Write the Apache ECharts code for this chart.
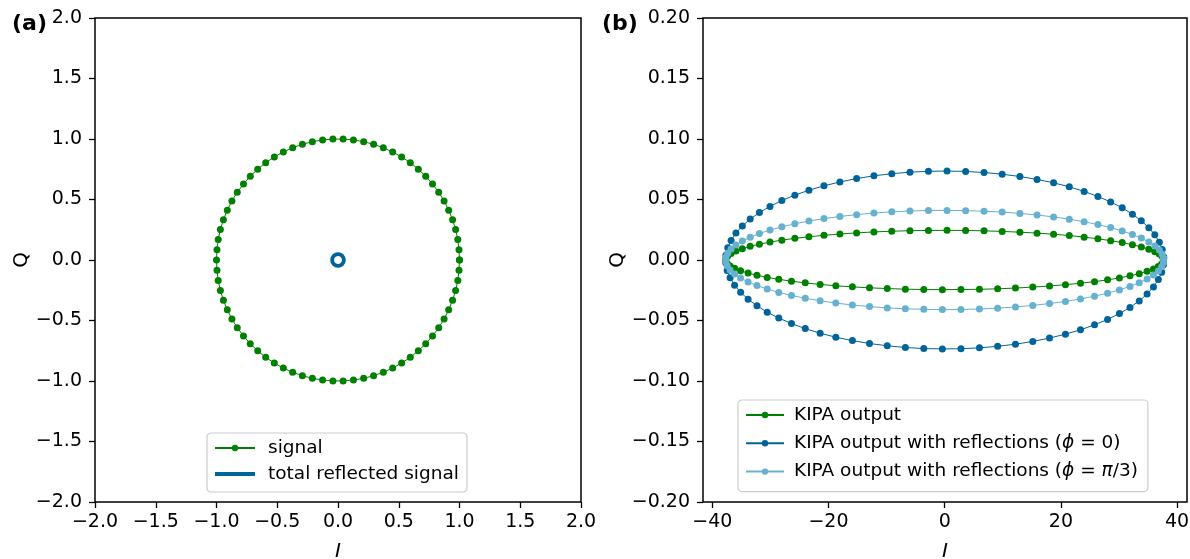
<!DOCTYPE html>
<html>
<head>
<meta charset="utf-8">
<script src="https://cdn.jsdelivr.net/npm/echarts@6/dist/echarts.min.js"></script>
<style>html,body{margin:0;padding:0;background:#fff;}#c{width:1190px;height:559px;}</style>
</head>
<body>
<div id="c"></div>
<script>
// ---- Panel (a): signal circle (I, Q) ----
const sigI = [1.000,0.996,0.986,0.968,0.943,0.911,0.873,0.829,0.778,0.722,0.661,0.595,0.524,0.450,0.373,0.293,0.211,0.127,0.042,
 -0.042,-0.127,-0.211,-0.293,-0.373,-0.450,-0.524,-0.595,-0.661,-0.722,-0.778,-0.829,-0.873,-0.911,-0.943,-0.968,-0.986,-0.996,
 -1.000,
 -0.996,-0.986,-0.968,-0.943,-0.911,-0.873,-0.829,-0.778,-0.722,-0.661,-0.595,-0.524,-0.450,-0.373,-0.293,-0.211,-0.127,-0.042,
 0.042,0.127,0.211,0.293,0.373,0.450,0.524,0.595,0.661,0.722,0.778,0.829,0.873,0.911,0.943,0.968,0.986,0.996,
 1.000];
const sigQ = [0.000,0.085,0.169,0.252,0.333,0.412,0.488,0.560,0.628,0.692,0.751,0.804,0.852,0.893,0.928,0.956,0.978,0.992,0.999,
 0.999,0.992,0.978,0.956,0.928,0.893,0.852,0.804,0.751,0.692,0.628,0.560,0.488,0.412,0.333,0.252,0.169,0.085,
 0.000,
 -0.085,-0.169,-0.252,-0.333,-0.412,-0.488,-0.560,-0.628,-0.692,-0.751,-0.804,-0.852,-0.893,-0.928,-0.956,-0.978,-0.992,-0.999,
 -0.999,-0.992,-0.978,-0.956,-0.928,-0.893,-0.852,-0.804,-0.751,-0.692,-0.628,-0.560,-0.488,-0.412,-0.333,-0.252,-0.169,-0.085,
 0.000];
// total reflected signal (tiny ring at origin)
const reflI = [0.048,0.042,0.024,0.000,-0.024,-0.042,-0.048,-0.042,-0.024,0.000,0.024,0.042,0.048];
const reflQ = [0.000,0.024,0.042,0.048,0.042,0.024,0.000,-0.024,-0.042,-0.048,-0.042,-0.024,0.000];

// ---- Panel (b): KIPA output ellipses ----
const kipaI = [37.68,37.44,36.94,36.16,35.13,33.84,32.31,30.55,28.56,26.37,24.00,21.44,18.74,15.89,12.94,9.89,6.77,3.60,0.40,
 -2.80,-5.98,-9.11,-12.18,-15.16,-18.04,-20.78,-23.37,-25.79,-28.03,-30.07,-31.89,-33.48,-34.83,-35.93,-36.77,-37.34,-37.65,
 -37.68,-37.44,-36.94,-36.16,-35.13,-33.84,-32.31,-30.55,-28.56,-26.37,-24.00,-21.44,-18.74,-15.89,-12.94,-9.89,-6.77,-3.60,-0.40,
 2.80,5.98,9.11,12.18,15.16,18.04,20.78,23.37,25.79,28.03,30.07,31.89,33.48,34.83,35.93,36.77,37.34,37.65,
 37.68];
const kipaQ = [0.0008,0.0029,0.0049,0.0069,0.0089,0.0108,0.0126,0.0144,0.0160,0.0175,0.0189,0.0202,0.0213,0.0222,0.0230,0.0236,0.0241,0.0244,0.0245,
 0.0244,0.0242,0.0238,0.0232,0.0224,0.0215,0.0204,0.0192,0.0179,0.0164,0.0148,0.0131,0.0113,0.0094,0.0074,0.0054,0.0034,0.0013,
 -0.0008,-0.0029,-0.0049,-0.0069,-0.0089,-0.0108,-0.0126,-0.0144,-0.0160,-0.0175,-0.0189,-0.0202,-0.0213,-0.0222,-0.0230,-0.0236,-0.0241,-0.0244,-0.0245,
 -0.0244,-0.0242,-0.0238,-0.0232,-0.0224,-0.0215,-0.0204,-0.0192,-0.0179,-0.0164,-0.0148,-0.0131,-0.0113,-0.0094,-0.0074,-0.0054,-0.0034,-0.0013,
 0.0008];
const kipaRefl0Q = [0.0023,0.0086,0.0147,0.0208,0.0267,0.0324,0.0379,0.0431,0.0480,0.0525,0.0567,0.0605,0.0638,0.0666,0.0690,0.0709,0.0723,0.0732,0.0735,
 0.0733,0.0726,0.0713,0.0696,0.0673,0.0645,0.0613,0.0577,0.0536,0.0491,0.0443,0.0392,0.0338,0.0281,0.0223,0.0162,0.0101,0.0039,
 -0.0023,-0.0086,-0.0147,-0.0208,-0.0267,-0.0324,-0.0379,-0.0431,-0.0480,-0.0525,-0.0567,-0.0605,-0.0638,-0.0666,-0.0690,-0.0709,-0.0723,-0.0732,-0.0735,
 -0.0733,-0.0726,-0.0713,-0.0696,-0.0673,-0.0645,-0.0613,-0.0577,-0.0536,-0.0491,-0.0443,-0.0392,-0.0338,-0.0281,-0.0223,-0.0162,-0.0101,-0.0039,
 0.0023];
const kipaRefl3Q = [0.0013,0.0048,0.0082,0.0116,0.0149,0.0181,0.0211,0.0240,0.0268,0.0293,0.0316,0.0337,0.0356,0.0372,0.0385,0.0396,0.0403,0.0408,0.0410,
 0.0409,0.0405,0.0398,0.0388,0.0375,0.0360,0.0342,0.0322,0.0299,0.0274,0.0247,0.0219,0.0188,0.0157,0.0124,0.0091,0.0056,0.0022,
 -0.0013,-0.0048,-0.0082,-0.0116,-0.0149,-0.0181,-0.0211,-0.0240,-0.0268,-0.0293,-0.0316,-0.0337,-0.0356,-0.0372,-0.0385,-0.0396,-0.0403,-0.0408,-0.0410,
 -0.0409,-0.0405,-0.0398,-0.0388,-0.0375,-0.0360,-0.0342,-0.0322,-0.0299,-0.0274,-0.0247,-0.0219,-0.0188,-0.0157,-0.0124,-0.0091,-0.0056,-0.0022,
 0.0013];

const xTicksB = [-40, -20, 0, 20, 40];
const seriesNames = ['signal', 'total reflected signal', 'KIPA output',
  'KIPA output with reflections (ϕ = 0)', 'KIPA output with reflections (ϕ = π/3)'];

const GREEN = '#008000', DARK = '#00649a', LIGHT = '#66b1d0';
const FONT = 'DejaVu Sans';
const zip = (a, b) => a.map((v, i) => [v, b[i]]);
const minus = s => s.replace('-', '\u2212');

const axisCommon = {
  axisLine: { show: false, onZero: false },
  axisTick: { show: true, length: 6, lineStyle: { color: '#000', width: 1.3 } },
  splitLine: { show: false },
  axisLabel: { color: '#000', fontFamily: FONT, fontSize: 19 }
};

const chart = echarts.init(document.getElementById('c'), null, { renderer: 'canvas' });
chart.setOption({
  animation: false,
  backgroundColor: '#fff',
  title: [
    { text: '(a)', left: 7, top: 8, textStyle: { fontFamily: FONT, fontWeight: 'bold', fontSize: 22, color: '#000' } },
    { text: '(b)', left: 597, top: 8, textStyle: { fontFamily: FONT, fontWeight: 'bold', fontSize: 22, color: '#000' } }
  ],
  grid: [
    { left: 95, top: 18, width: 486, height: 484, show: true, borderColor: '#000', borderWidth: 1.5,
      backgroundColor: 'transparent', containLabel: false, outerBoundsMode: 'none' },
    { left: 703, top: 18, width: 484, height: 484, show: true, borderColor: '#000', borderWidth: 1.5,
      backgroundColor: 'transparent', containLabel: false, outerBoundsMode: 'none' }
  ],
  xAxis: [
    Object.assign({}, axisCommon, {
      gridIndex: 0, type: 'value', min: -2, max: 2, interval: 0.5,
      name: 'I', nameLocation: 'middle', nameGap: 40,
      nameTextStyle: { fontFamily: FONT, fontStyle: 'italic', fontSize: 20, color: '#000' },
      axisLabel: Object.assign({}, axisCommon.axisLabel, { margin: 11, interval: 0, formatter: v => minus(v.toFixed(1)) })
    }),
    Object.assign({}, axisCommon, {
      gridIndex: 1, type: 'value', min: -41.6, max: 41.7,
      name: 'I', nameLocation: 'middle', nameGap: 40,
      nameTextStyle: { fontFamily: FONT, fontStyle: 'italic', fontSize: 20, color: '#000' },
      axisTick: Object.assign({}, axisCommon.axisTick, { customValues: xTicksB }),
      axisLabel: Object.assign({}, axisCommon.axisLabel, { margin: 11, customValues: xTicksB, formatter: v => minus(String(Math.round(v))) })
    })
  ],
  yAxis: [
    Object.assign({}, axisCommon, {
      gridIndex: 0, type: 'value', min: -2, max: 2, interval: 0.5,
      name: 'Q', nameLocation: 'middle', nameGap: 62,
      nameTextStyle: { fontFamily: FONT, fontSize: 20, color: '#000' },
      axisLabel: Object.assign({}, axisCommon.axisLabel, { margin: 13, interval: 0, formatter: v => minus(v.toFixed(1)) })
    }),
    Object.assign({}, axisCommon, {
      gridIndex: 1, type: 'value', min: -0.2, max: 0.2, interval: 0.05,
      name: 'Q', nameLocation: 'middle', nameGap: 62,
      nameTextStyle: { fontFamily: FONT, fontSize: 20, color: '#000' },
      axisLabel: Object.assign({}, axisCommon.axisLabel, { margin: 13, interval: 0, formatter: v => minus(v.toFixed(2)) })
    })
  ],
  legend: [
    {
      data: [seriesNames[0],
             { name: seriesNames[1], lineStyle: { width: 4, color: DARK }, itemStyle: { opacity: 0 } }],
      orient: 'vertical', left: 207, top: 433,
      padding: [5, 8, 8, 6], itemGap: 6, itemWidth: 40, itemHeight: 8,
      backgroundColor: 'rgba(255,255,255,0.85)', borderColor: '#cccccc', borderWidth: 1.2, borderRadius: 4,
      textStyle: { fontFamily: FONT, fontSize: 18.5, color: '#000', lineHeight: 20, padding: [0, 0, 0, 8] },
      selectedMode: false
    },
    {
      data: [seriesNames[2], seriesNames[3], seriesNames[4]],
      orient: 'vertical', left: 738, top: 400,
      padding: [5, 10, 10, 7], itemGap: 8.3, itemWidth: 38, itemHeight: 8,
      backgroundColor: 'rgba(255,255,255,0.85)', borderColor: '#cccccc', borderWidth: 1.2, borderRadius: 4,
      formatter: n => n.replace('ϕ', '{i|ϕ}').replace('π', '{i|π}'),
      textStyle: {
        fontFamily: FONT, fontSize: 18.5, color: '#000', lineHeight: 20, padding: [0, 0, 0, 5],
        rich: { i: { fontFamily: FONT, fontStyle: 'italic', fontSize: 18.5, color: '#000', lineHeight: 20 } }
      },
      selectedMode: false
    }
  ],
  series: [
    { name: seriesNames[0], type: 'line', xAxisIndex: 0, yAxisIndex: 0, data: zip(sigI, sigQ),
      symbol: 'circle', symbolSize: 7, showSymbol: true,
      lineStyle: { color: GREEN, width: 1 }, itemStyle: { color: GREEN }, z: 2 },
    { name: seriesNames[1], type: 'line', xAxisIndex: 0, yAxisIndex: 0, data: zip(reflI, reflQ),
      symbol: 'none', smooth: true,
      lineStyle: { color: DARK, width: 3.8 }, itemStyle: { color: DARK }, z: 3 },
    { name: seriesNames[2], type: 'line', xAxisIndex: 1, yAxisIndex: 1, data: zip(kipaI, kipaQ),
      symbol: 'circle', symbolSize: 7,
      lineStyle: { color: GREEN, width: 1 }, itemStyle: { color: GREEN }, z: 2 },
    { name: seriesNames[3], type: 'line', xAxisIndex: 1, yAxisIndex: 1, data: zip(kipaI, kipaRefl0Q),
      symbol: 'circle', symbolSize: 7,
      lineStyle: { color: DARK, width: 1 }, itemStyle: { color: DARK }, z: 3 },
    { name: seriesNames[4], type: 'line', xAxisIndex: 1, yAxisIndex: 1, data: zip(kipaI, kipaRefl3Q),
      symbol: 'circle', symbolSize: 7,
      lineStyle: { color: LIGHT, width: 1 }, itemStyle: { color: LIGHT }, z: 4 }
  ]
});
</script>
</body>
</html>
